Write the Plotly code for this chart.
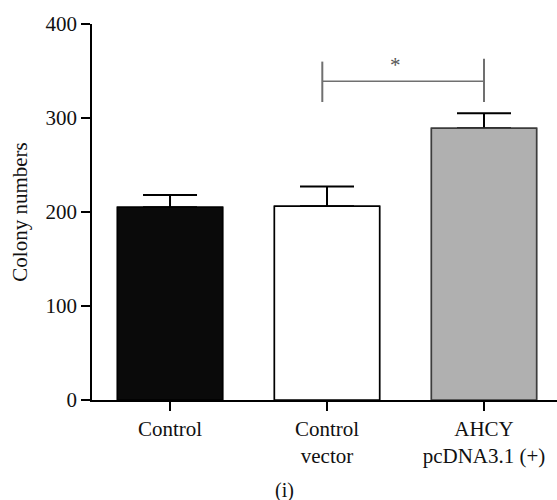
import plotly.graph_objects as go

# Colony formation counts (mean with upper SD)
groups = ["Control", "Control<br>vector", "AHCY<br>pcDNA3.1 (+)"]
colony_mean = [205, 206, 289]
colony_err = [13, 21, 16]
bar_fill = ["#0a0a0a", "#ffffff", "#b0b0b0"]
bar_edge = ["#000000", "#000000", "#3c3c3c"]

y_ticks = [0, 100, 200, 300, 400]

# Significance bracket between the vector and AHCY groups
bracket_x = [0.97, 2.0]
bracket_y = 339
bracket_left = [317, 360]
bracket_right = [317, 363]
sig_label = "*"

FONT = "Liberation Serif"

fig = go.Figure()
# Bars carrying the upper error whiskers
fig.add_trace(go.Bar(
    x=[0, 1, 2],
    y=colony_mean,
    width=0.67,
    marker=dict(color=bar_fill, line=dict(color=bar_edge, width=1.5)),
    error_y=dict(type="data", symmetric=False, array=colony_err,
                 arrayminus=[0, 0, 0], color="#000000", thickness=2, width=27),
    showlegend=False, hoverinfo="skip",
))
# Same bars redrawn on top so the lower whisker cap is hidden by the bar body
fig.add_trace(go.Bar(
    x=[0, 1, 2],
    y=colony_mean,
    width=0.67,
    marker=dict(color=bar_fill, line=dict(color=bar_edge, width=1.5)),
    showlegend=False,
))

gray = "#707070"
fig.add_shape(type="line", xref="x", yref="y",
              x0=bracket_x[0], x1=bracket_x[1], y0=bracket_y, y1=bracket_y,
              line=dict(color=gray, width=1.5))
fig.add_shape(type="line", xref="x", yref="y",
              x0=bracket_x[0], x1=bracket_x[0], y0=bracket_left[0], y1=bracket_left[1],
              line=dict(color=gray, width=2))
fig.add_shape(type="line", xref="x", yref="y",
              x0=bracket_x[1], x1=bracket_x[1], y0=bracket_right[0], y1=bracket_right[1],
              line=dict(color=gray, width=2))
fig.add_annotation(x=1.435, y=356, xref="x", yref="y", text=sig_label,
                   showarrow=False, font=dict(family=FONT, size=21, color="#555555"))

# Panel caption below the category labels
fig.add_annotation(x=0.414, y=-0.24, xref="paper", yref="paper", text="(i)",
                   xanchor="center", yanchor="middle",
                   showarrow=False, font=dict(family=FONT, size=20, color="#111111"))

fig.update_layout(
    width=557, height=500,
    margin=dict(l=92, r=0, t=24, b=100, autoexpand=False),
    paper_bgcolor="white", plot_bgcolor="white",
    font=dict(family=FONT, size=21, color="#111111"),
    barmode="overlay",
)
fig.update_xaxes(
    range=[-0.497, 2.465], tickmode="array", tickvals=[0, 1, 2], ticktext=groups,
    showline=True, linecolor="#000000", linewidth=1.5,
    ticks="outside", ticklen=9, tickwidth=1.5, tickcolor="#000000",
    showgrid=False, zeroline=False, fixedrange=True,
)
fig.update_yaxes(
    range=[0, 400], tickmode="array", tickvals=y_ticks,
    showline=True, linecolor="#000000", linewidth=1.5,
    ticks="outside", ticklen=9, tickwidth=1.5, tickcolor="#000000",
    showgrid=False, zeroline=False, fixedrange=True,
    title=dict(text="Colony numbers", font=dict(family=FONT, size=21), standoff=12),
)

fig.write_html("out.html")
